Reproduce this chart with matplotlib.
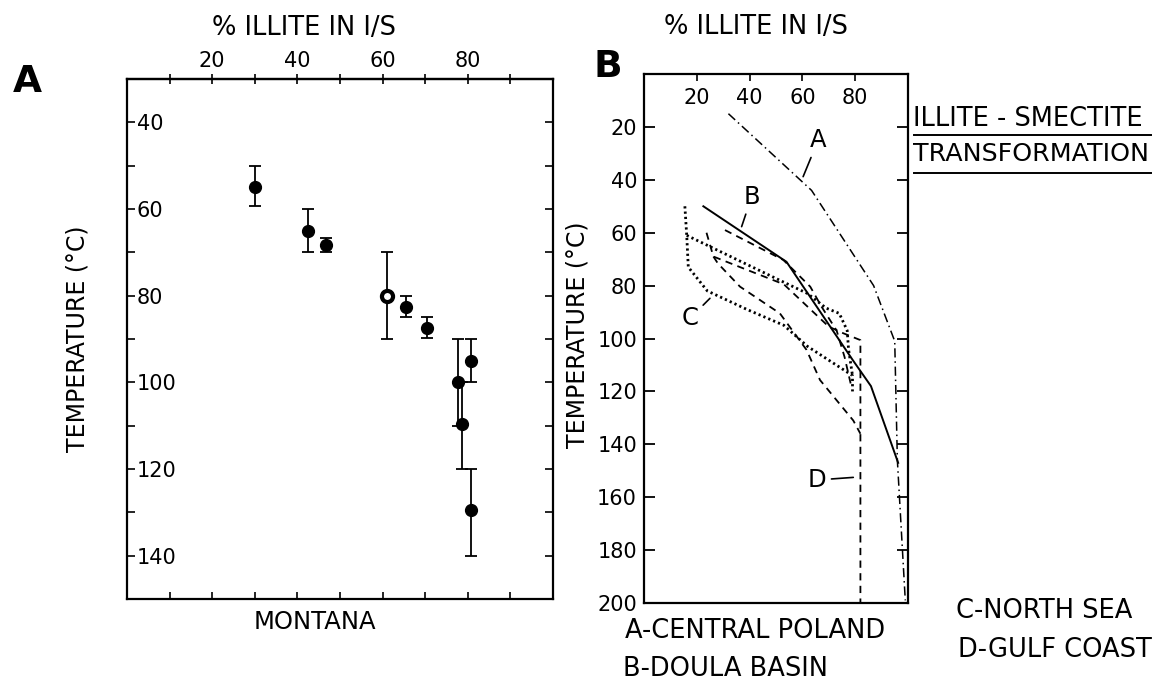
import numpy as np
import matplotlib
matplotlib.use('Agg')
from matplotlib import pyplot as plt
from matplotlib.lines import Line2D

plt.rcParams['font.family'] = 'DejaVu Sans'

# panel A - Montana data (% illite vs temperature, with error bar limits)
illite_a = [30, 42.5, 46.7, 61, 65.6, 70.4, 77.8, 78.7, 80.7, 80.7]
temp_a = [55, 65, 68.3, 80, 82.5, 87.5, 100, 109.5, 95, 129.5]
temp_a_lo = [50, 60, 66.6, 70, 80, 85, 90, 100, 90, 120]
temp_a_hi = [59.3, 70, 70, 90, 85, 89.8, 110, 120, 100, 140]
open_point = 3  # index of the hollow marker

# panel B - illite/smectite transformation curves
curve_a_x = [32, 63.5, 87, 95, 96, 99]
curve_a_y = [15, 44, 80, 101, 146, 199]

curve_b_x = [22.5, 54, 79, 86, 96.3]
curve_b_y = [50, 71, 108, 118, 147]

curve_c_outer_x = [15.5, 16.2, 16.8, 24, 39, 53, 62, 79, 79]
curve_c_outer_y = [50, 61, 73, 82, 89, 95, 103, 114, 120]
curve_c_inner_x = [16.2, 51.5, 62, 69, 74, 77, 77.5, 79]
curve_c_inner_y = [61, 78, 83, 88.5, 90.5, 97, 104, 114]

curve_d1_x = [30.7, 52.8, 63, 67.3, 73, 76, 78.3]
curve_d1_y = [59, 70.3, 80.4, 88, 97, 107, 117]
curve_d2_x = [23.7, 26.3, 36.4, 53, 70, 75.5, 82, 82]
curve_d2_y = [60, 69, 73, 79.5, 95.5, 98, 100.6, 200]
curve_d3_x = [26.3, 28, 36.4, 51.5, 61.6, 66.7, 79.3, 82]
curve_d3_y = [69, 71.6, 80.4, 90.5, 104.3, 115.7, 131, 136]

# curve labels: letter, text position, leader end
curve_labels = ['A', 'B', 'C', 'D']
label_pos = [(66, 25), (40.8, 46.4), (17.4, 92.4), (65.4, 153.5)]
leader_end = [(60.3, 38.8), (37, 57.7), (25, 84.8), (79.3, 152.5)]

legend_left = ['A-CENTRAL POLAND', 'B-DOULA BASIN']
legend_right = ['C-NORTH SEA', 'D-GULF COAST']

fig = plt.figure(figsize=(11.67, 6.81), dpi=100)

# ---------------- panel A ----------------
ax1 = fig.add_axes([0.1088, 0.1204, 0.3651, 0.7636])
yerr = [np.array(temp_a) - np.array(temp_a_lo), np.array(temp_a_hi) - np.array(temp_a)]
ax1.errorbar(illite_a, temp_a, yerr=yerr, fmt='none', ecolor='black',
             elinewidth=1.3, capsize=4, capthick=1.3)
filled = [i for i in range(len(illite_a)) if i != open_point]
ax1.plot([illite_a[i] for i in filled], [temp_a[i] for i in filled], 'o',
         color='black', markersize=8.5)
ax1.plot(illite_a[open_point], temp_a[open_point], 'o', markerfacecolor='white',
         markeredgecolor='black', markeredgewidth=3, markersize=8)

ax1.set_xlim(0, 100)
ax1.set_ylim(150, 30)
ax1.set_yticks([40, 60, 80, 100, 120, 140])
ax1.set_yticks([50, 70, 90, 110, 130], minor=True)
ax1.set_xticks(np.arange(10, 100, 10))
ax1.tick_params(axis='x', which='both', direction='in', bottom=True, top=False,
                labelbottom=False, length=5, width=1.2)
ax1.tick_params(axis='y', which='both', direction='in', left=True, right=True,
                length=6, width=1.2, labelsize=15, pad=-7)
plt.setp(ax1.get_yticklabels(), ha='left')

top = ax1.secondary_xaxis('top')
top.set_xticks([20, 40, 60, 80])
top.set_xticks([10, 30, 50, 70, 90], minor=True)
top.tick_params(which='both', direction='inout', length=7, width=1.2, labelsize=15, pad=2)
top.spines['top'].set_linewidth(1.6)

for s in ax1.spines.values():
    s.set_linewidth(1.6)

ax1.set_ylabel('TEMPERATURE (°C)', fontsize=17)
ax1.yaxis.set_label_coords(-0.087, 0.5)
ax1.text(0.415, 1.098, '% ILLITE IN I/S', transform=ax1.transAxes, fontsize=18.5,
         ha='center', va='center')
ax1.text(0.441, -0.044, 'MONTANA', transform=ax1.transAxes, fontsize=17.5,
         ha='center', va='center')
fig.text(0.0231, 0.8796, 'A', fontsize=27, fontweight='bold', ha='center', va='center')

# ---------------- panel B ----------------
ax2 = fig.add_axes([0.5518, 0.1145, 0.2262, 0.7768])
ax2.plot(curve_a_x, curve_a_y, color='black', lw=1.1, linestyle=(0, (6, 2.5, 1, 2.5)))
ax2.plot(curve_b_x, curve_b_y, color='black', lw=1.4, linestyle='-')
ax2.plot(curve_c_outer_x, curve_c_outer_y, color='black', lw=2, linestyle=(0, (0.8, 1.1)))
ax2.plot(curve_c_inner_x, curve_c_inner_y, color='black', lw=2, linestyle=(0, (0.8, 1.1)))
for xs, ys in [(curve_d1_x, curve_d1_y), (curve_d2_x, curve_d2_y), (curve_d3_x, curve_d3_y)]:
    ax2.plot(xs, ys, color='black', lw=1.3, linestyle=(0, (4, 3)))

for lab, pos, end in zip(curve_labels, label_pos, leader_end):
    ax2.annotate(lab, xy=end, xytext=pos, fontsize=17.5, ha='center', va='center',
                 arrowprops=dict(arrowstyle='-', color='black', lw=1.2,
                                 shrinkA=2, shrinkB=0))

ax2.set_xlim(0, 100)
ax2.set_ylim(200, 0)
ax2.set_xticks([20, 40, 60, 80])
ax2.set_yticks(np.arange(20, 201, 20))
ax2.tick_params(axis='x', direction='in', top=True, bottom=False, labeltop=True,
                labelbottom=False, length=5, width=1.2, labelsize=15, pad=-10)
plt.setp(ax2.get_xticklabels(), va='top')
ax2.tick_params(axis='y', direction='in', left=True, right=True, length=8,
                width=1.3, labelsize=15, pad=5)
for s in ax2.spines.values():
    s.set_linewidth(1.6)

ax2.set_ylabel('TEMPERATURE (°C)', fontsize=17)
ax2.yaxis.set_label_coords(-0.205, 0.508)
ax2.text(0.424, 1.089, '% ILLITE IN I/S', transform=ax2.transAxes, fontsize=18.5,
         ha='center', va='center')
fig.text(0.521, 0.9016, 'B', fontsize=27, fontweight='bold', ha='center', va='center')

# title block on the right, underlined
fig.text(0.7824, 0.8253, 'ILLITE - SMECTITE', fontsize=18.5, ha='left', va='center')
fig.text(0.7824, 0.7739, 'TRANSFORMATION', fontsize=18.3, ha='left', va='center')
for yy in [0.8018, 0.7460]:
    fig.add_artist(Line2D([0.7832, 0.9863], [yy, yy], transform=fig.transFigure,
                          color='black', lw=1.4))

# location key
fig.text(0.5356, 0.0734, legend_left[0], fontsize=18.5, ha='left', va='center')
fig.text(0.5338, 0.0176, legend_left[1], fontsize=18.5, ha='left', va='center')
fig.text(0.8192, 0.1028, legend_right[0], fontsize=18.5, ha='left', va='center')
fig.text(0.8209, 0.0455, legend_right[1], fontsize=18.5, ha='left', va='center')

fig.savefig('out.png', dpi=100)
